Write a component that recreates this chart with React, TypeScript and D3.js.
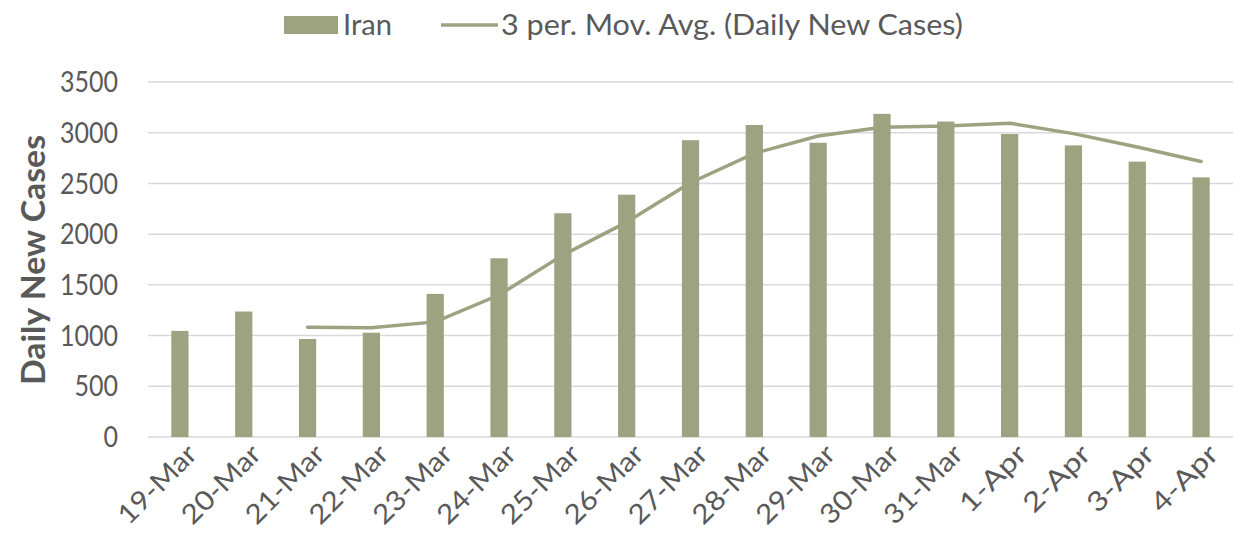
import React from "react";
import * as d3 from "d3";

const categories = ["19-Mar","20-Mar","21-Mar","22-Mar","23-Mar","24-Mar","25-Mar","26-Mar","27-Mar","28-Mar","29-Mar","30-Mar","31-Mar","1-Apr","2-Apr","3-Apr","4-Apr"];
const dailyCases = [1046,1237,966,1028,1411,1762,2206,2389,2926,3076,2901,3186,3110,2987,2875,2715,2560];
const movAvgCategories = ["21-Mar","22-Mar","23-Mar","24-Mar","25-Mar","26-Mar","27-Mar","28-Mar","29-Mar","30-Mar","31-Mar","1-Apr","2-Apr","3-Apr","4-Apr"];
const movAvg = [1083,1077,1135,1400,1793,2119,2507,2797,2968,3054,3066,3094,2991,2859,2717];
const yTicks = [0,500,1000,1500,2000,2500,3000,3500];

const W = 1243, H = 555;
const left = 148, right = 1233, top = 82, bottom = 437;
const color = "#9DA381";
const textColor = "#595959";
const font = "Lato, 'Open Sans', sans-serif";

export default function App() {
  const x = d3.scaleBand<string>().domain(categories).range([left, right]).paddingInner(0.73).paddingOuter(0.365);
  const y = d3.scaleLinear().domain([0, 3500]).range([bottom, top]);
  const line = d3.line<number>()
    .x((_, i) => (x(movAvgCategories[i]) as number) + x.bandwidth() / 2)
    .y((d) => y(d));
  return (
    <svg width={W} height={H} style={{ position: "absolute", left: 0, top: 0, background: "#fff" }} fontFamily={font}>
      {yTicks.map((t) => (
        <g key={t}>
          <line x1={left} x2={right} y1={y(t)} y2={y(t)} stroke="#D9D9D9" strokeWidth={1.5} />
          <text x={118} y={y(t)} dy="0.36em" textAnchor="end" fontSize={28} fill={textColor}
            textLength={14.5 * String(t).length} lengthAdjust="spacingAndGlyphs">{t}</text>
        </g>
      ))}
      {dailyCases.map((v, i) => (
        <rect key={i} x={x(categories[i])} y={y(v)} width={x.bandwidth()} height={y(0) - y(v)} fill={color} />
      ))}
      <path d={line(movAvg) || ""} fill="none" stroke={color} strokeWidth={3.5} strokeLinejoin="round" strokeLinecap="round" />
      {categories.map((c) => {
        const cx = (x(c) as number) + x.bandwidth() / 2 + 12;
        return (
          <text key={c} transform={`translate(${cx},${449}) rotate(-45)`} textAnchor="end" dy="0.36em" fontSize={27} fill={textColor}
            textLength={16.5 * c.length} lengthAdjust="spacingAndGlyphs">{c}</text>
        );
      })}
      <text transform={`translate(33,${260}) rotate(-90)`} textAnchor="middle" dy="0.36em" fontSize={32} fontWeight="bold" fill={textColor}
        textLength={250} lengthAdjust="spacingAndGlyphs">Daily New Cases</text>
      <rect x={284} y={16} width={54} height={18} fill={color} />
      <text x={343} y={25} dy="0.36em" fontSize={29} fill={textColor} textLength={49} lengthAdjust="spacingAndGlyphs">Iran</text>
      <line x1={441} x2={498} y1={25} y2={25} stroke={color} strokeWidth={3.5} />
      <text x={501} y={25} dy="0.36em" fontSize={29} fill={textColor} textLength={462} lengthAdjust="spacingAndGlyphs">3 per. Mov. Avg. (Daily New Cases)</text>
    </svg>
  );
}
